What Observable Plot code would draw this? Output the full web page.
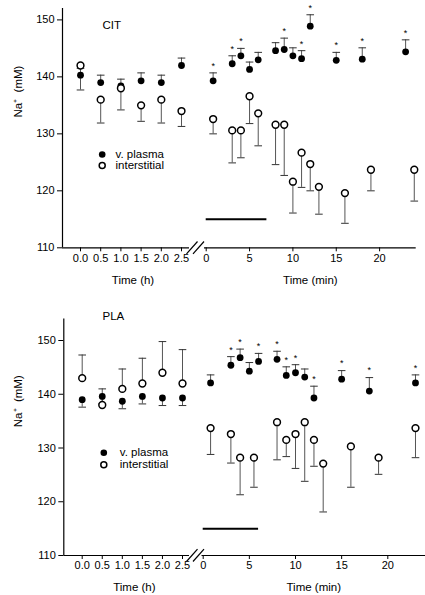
<!DOCTYPE html>
<html><head><meta charset="utf-8">
<script src="https://cdn.jsdelivr.net/npm/d3@7"></script>
<script src="https://cdn.jsdelivr.net/npm/@observablehq/plot@0.6"></script>
<style>
body{margin:0;background:#fff;}
#wrap{position:relative;width:425px;height:595px;overflow:hidden;background:#fff;}
#wrap > svg{position:absolute;}
</style></head><body><div id="wrap"></div>
<script>
// ---- shared axes ----
const hoursT = [0.0, 0.5, 1.0, 1.5, 2.0, 2.5];
const minTicks = [0, 5, 10, 15, 20];
const yTicks = [110, 120, 130, 140, 150];
const legendLabels = ["v. plasma", "interstitial"];

// ---- CIT ----
const citPlasmaH   = [140.3, 139.0, 138.4, 139.3, 139.0, 142.0];
const citPlasmaHSD = [1.2, 1.3, 1.2, 1.4, 1.3, 1.3];
const citInterH    = [142.0, 136.0, 138.0, 135.0, 136.0, 134.0];
const citInterHSD  = [4.3, 4.1, 3.8, 2.8, 4.1, 2.7];
const citPlasmaT   = [0.8, 3, 4, 5, 6, 8, 9, 10, 11, 12, 15, 18, 23];
const citPlasma    = [139.3, 142.3, 143.7, 141.3, 143.0, 144.6, 144.8, 143.7, 143.2, 148.9, 142.9, 143.1, 144.4];
const citPlasmaSD  = [1.4, 1.4, 1.3, 1.3, 1.3, 1.4, 2.0, 1.4, 1.4, 2.0, 1.4, 2.0, 2.1];
const citStar      = [1, 1, 1, 0, 0, 0, 1, 0, 1, 1, 1, 1, 1];
const citInterT    = [0.8, 3, 4, 5, 6, 8, 9, 10, 11, 12, 13, 16, 19, 24];
const citInter     = [132.6, 130.6, 130.6, 136.6, 133.6, 131.6, 131.6, 121.6, 126.7, 124.7, 120.7, 119.6, 123.7, 123.7];
const citInterSD   = [2.6, 5.7, 4.8, 4.8, 5.7, 7.0, 8.9, 5.5, 6.1, 4.7, 4.8, 5.3, 3.7, 5.5];
const citBar       = [0, 7];

// ---- PLA ----
const plaPlasmaH   = [139.0, 139.6, 138.7, 139.6, 139.3, 139.3];
const plaPlasmaHSD = [1.4, 1.4, 1.4, 1.4, 1.4, 1.4];
const plaInterH    = [143.0, 138.0, 141.0, 142.0, 144.0, 142.0];
const plaInterHSD  = [4.3, 3.0, 3.7, 4.7, 5.8, 6.3];
const plaPlasmaT   = [0.8, 3, 4, 5, 6, 8, 9, 10, 11, 12, 15, 18, 23];
const plaPlasma    = [142.1, 145.4, 146.8, 144.3, 146.1, 146.5, 143.5, 144.0, 143.2, 139.3, 142.8, 140.6, 142.1];
const plaPlasmaSD  = [1.5, 1.6, 1.6, 1.6, 1.5, 1.5, 1.6, 1.5, 1.5, 2.2, 1.6, 2.5, 1.5];
const plaStar      = [0, 1, 1, 0, 1, 1, 1, 1, 0, 1, 1, 1, 1];
const plaInterT    = [0.8, 3, 4, 5.5, 8, 9, 10, 11, 12, 13, 16, 19, 23];
const plaInter     = [133.7, 132.6, 128.2, 128.2, 134.8, 131.5, 132.6, 134.8, 131.5, 127.1, 130.3, 128.2, 133.7];
const plaInterSD   = [4.9, 5.4, 6.9, 5.5, 7.0, 3.1, 6.4, 11.0, 4.9, 9.0, 7.6, 3.1, 5.5];
const plaBar       = [0, 6];
const barLevel = 115;

const FONT = "'Liberation Sans', Arial, Helvetica, sans-serif";

function rowsOf(t, v, sd, sign, star) {
  return t.map((x, i) => ({t: x, v: v[i], e: v[i] + sign * sd[i], sd: sd[i], star: star ? star[i] : 0}));
}
const capSymbol = {
  draw(ctx, size) { const r = Math.sqrt(size / Math.PI); ctx.moveTo(-r, 0); ctx.lineTo(r, 0); }
};
function errorMarks(d) {
  const f = d.filter(r => r.sd > 0);
  return [
    Plot.ruleX(f, {x: "t", y1: "v", y2: "e", stroke: "#555", strokeWidth: 1}),
    Plot.dot(f, {x: "t", y: "e", symbol: capSymbol, r: 3.8, fill: "none", stroke: "#333", strokeWidth: 1})
  ];
}
function pointMarks(p, q) {
  return [
    errorMarks(p), errorMarks(q),
    Plot.dot(p, {x: "t", y: "v", r: 3.4, fill: "black"}),
    Plot.dot(q, {x: "t", y: "v", r: 3.4, fill: "white", stroke: "black", strokeWidth: 1.5}),
    Plot.text(p.filter(r => r.star), {x: "t", y: "e", text: () => "*", dy: -7, fontSize: 9, lineAnchor: "middle"})
  ];
}

function panel(c) {
  const wrap = document.getElementById("wrap");
  const hDom = [(c.axisX - c.h0) / c.hPx, (c.leftEnd - c.h0) / c.hPx];
  const mDom = [(c.rStart - c.m0) / c.mPx, (c.rEnd - c.m0) / c.mPx];
  const pxY = (c.base - c.frameTop) / (c.yMax - 110);
  const style = {fontFamily: FONT, fontSize: "11px", background: "transparent", overflow: "visible", color: "black"};
  const mT = c.frameTop - c.top, mB = c.top + c.height - c.base;

  const hP = rowsOf(hoursT, c.plasmaH, c.plasmaHSD, c.hPlasmaSign);
  const hI = rowsOf(hoursT, c.interH, c.interHSD, -c.hPlasmaSign);
  const mP = rowsOf(c.plasmaT, c.plasma, c.plasmaSD, 1, c.star);
  const mI = rowsOf(c.interT, c.inter, c.interSD, -1);

  const left = Plot.plot({
    width: c.leftEnd, height: c.height,
    marginLeft: c.axisX, marginRight: 0, marginTop: mT, marginBottom: mB,
    x: {domain: hDom, ticks: hoursT, tickFormat: d => d.toFixed(1), tickSize: 4, tickPadding: 2, label: null},
    y: {domain: [110, c.yMax], ticks: yTicks, tickSize: 5, tickPadding: 3, label: null},
    style,
    marks: [
      Plot.ruleX([hDom[0]], {stroke: "black", strokeWidth: 1.2}),
      Plot.ruleY([110], {stroke: "black", strokeWidth: 1.2}),
      pointMarks(hP, hI),
      Plot.text([{t: c.title}], {text: "t", frameAnchor: "top-left", dx: c.titleDx, dy: c.titleDy, textAnchor: "start", lineAnchor: "middle", fontSize: 11.5}),
      Plot.dot([0], {frameAnchor: "top-left", dx: c.legDx, dy: c.legDy, r: 3.3, fill: "black"}),
      Plot.dot([0], {frameAnchor: "top-left", dx: c.legDx, dy: c.legDy + c.legGap, r: 3.0, fill: "white", stroke: "black", strokeWidth: 1.5}),
      Plot.text([legendLabels[0]], {text: d => d, frameAnchor: "top-left", dx: c.legTx, dy: c.legDy, textAnchor: "start", lineAnchor: "middle", fontSize: 11.5}),
      Plot.text([legendLabels[1]], {text: d => d, frameAnchor: "top-left", dx: c.legTx, dy: c.legDy + c.legGap, textAnchor: "start", lineAnchor: "middle", fontSize: 11.5}),
      Plot.text([{x: 1.25, t: "Time (h)"}], {x: "x", text: "t", frameAnchor: "bottom", dx: 2, dy: c.labDy, lineAnchor: "middle", fontSize: 11.5}),
      Plot.text([{t: "Na\u207A  (mM)"}], {text: "t", frameAnchor: "left", rotate: -90, dx: c.ylabX - c.axisX, dy: c.ylabY - (c.frameTop + c.base) / 2, lineAnchor: "middle", fontSize: 11.5})
    ]
  });

  // break slashes (pixel geometry of the axis break converted into data units)
  const toM = px => (px - c.m0) / c.mPx;
  const toV = dpx => 110 - dpx / pxY;
  const slashes = [
    {x1: toM(186), y1: toV(6), x2: toM(197), y2: toV(-6.3)},
    {x1: toM(192.5), y1: toV(6), x2: toM(203.5), y2: toV(-6.3)}
  ];

  const right = Plot.plot({
    width: 425 - c.rLeft, height: c.height,
    marginLeft: c.rStart - c.rLeft, marginRight: 425 - c.rEnd, marginTop: mT, marginBottom: mB,
    x: {domain: mDom, ticks: minTicks, tickSize: 4, tickPadding: 2, label: null},
    y: {domain: [110, c.yMax], axis: null},
    style,
    marks: [
      Plot.ruleY([110], {stroke: "black", strokeWidth: 1.2}),
      Plot.ruleY([{x1: c.bar[0], x2: c.bar[1], y: barLevel}], {x1: "x1", x2: "x2", y: "y", stroke: "black", strokeWidth: 2}),
      pointMarks(mP, mI),
      Plot.link(slashes, {x1: "x1", y1: "y1", x2: "x2", y2: "y2", stroke: "black", strokeWidth: 1.2}),
      Plot.text([{t: "Time (min)"}], {text: "t", frameAnchor: "bottom", dy: c.labDy, lineAnchor: "middle", fontSize: 11.5})
    ]
  });

  left.style.left = "0px"; left.style.top = c.top + "px";
  right.style.left = c.rLeft + "px"; right.style.top = c.top + "px";
  wrap.appendChild(left);
  wrap.appendChild(right);
}

panel({
  title: "CIT", top: 0, height: 300, frameTop: 8, base: 247.3, yMax: 152,
  axisX: 62, leftEnd: 189, h0: 80, hPx: 40.4,
  rLeft: 183, rStart: 204, rEnd: 415.7, m0: 205.7, mPx: 8.67,
  plasmaH: citPlasmaH, plasmaHSD: citPlasmaHSD, interH: citInterH, interHSD: citInterHSD, hPlasmaSign: 1,
  plasmaT: citPlasmaT, plasma: citPlasma, plasmaSD: citPlasmaSD, star: citStar,
  interT: citInterT, inter: citInter, interSD: citInterSD, bar: citBar,
  titleDx: 40, titleDy: 17, legDx: 39.7, legDy: 146, legGap: 11, legTx: 53,
  labDy: 33, ylabX: 17.5, ylabY: 117
});
panel({
  title: "PLA", top: 300, height: 295, frameTop: 318.5, base: 555, yMax: 154,
  axisX: 63.3, leftEnd: 189, h0: 81.7, hPx: 40.12,
  rLeft: 183, rStart: 201.5, rEnd: 425, m0: 202.7, mPx: 9.23,
  plasmaH: plaPlasmaH, plasmaHSD: plaPlasmaHSD, interH: plaInterH, interHSD: plaInterHSD, hPlasmaSign: -1,
  plasmaT: plaPlasmaT, plasma: plaPlasma, plasmaSD: plaPlasmaSD, star: plaStar,
  interT: plaInterT, inter: plaInter, interSD: plaInterSD, bar: plaBar,
  titleDx: 38.7, titleDy: -2.5, legDx: 40, legDy: 133.8, legGap: 12, legTx: 56,
  labDy: 32, ylabX: 17.5, ylabY: 426.7
});
</script></body></html>
